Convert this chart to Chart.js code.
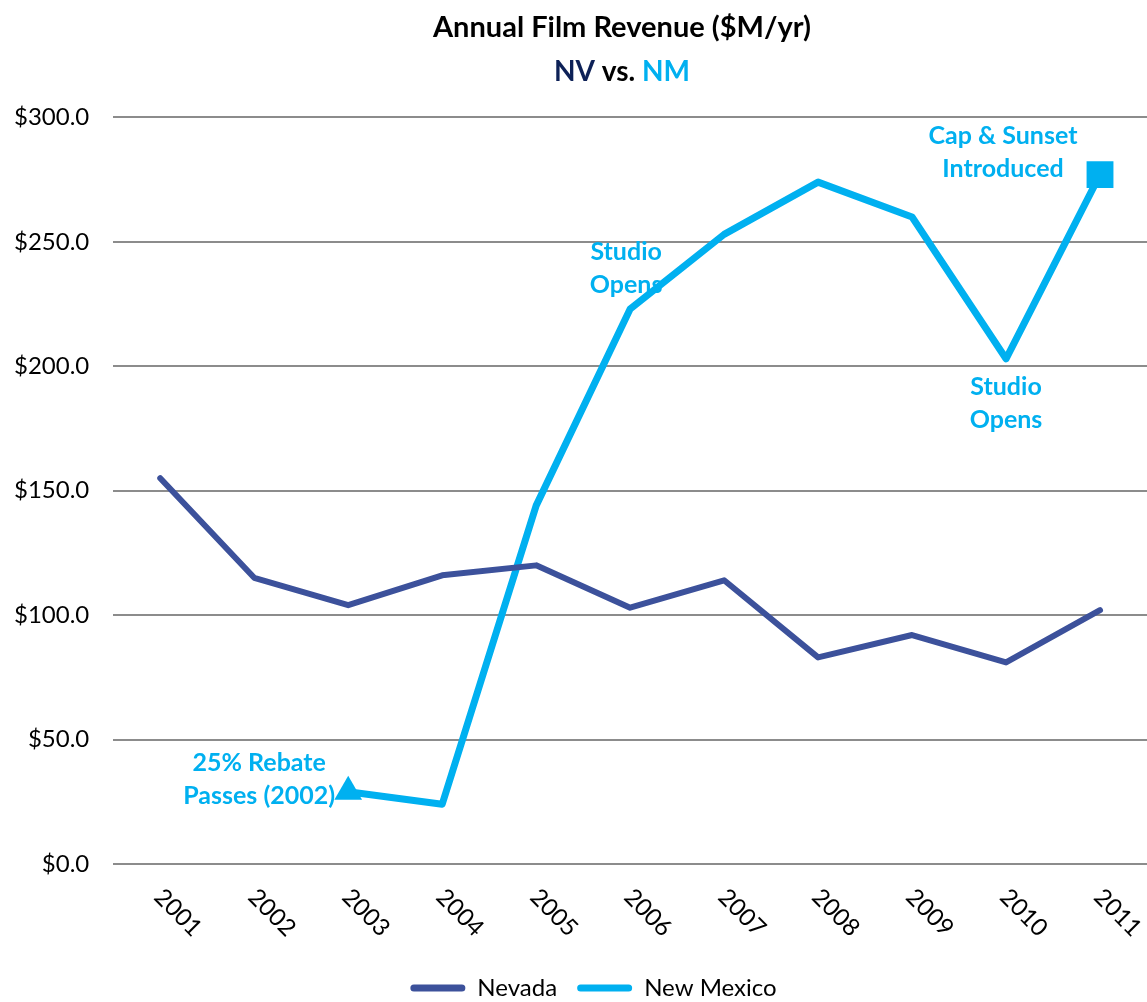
<!DOCTYPE html>
<html>
<head>
<meta charset="utf-8">
<script src="https://cdn.jsdelivr.net/npm/chart.js@4"></script>
<style>
  html, body { margin: 0; padding: 0; background: #fff; }
  #wrap { width: 1147px; height: 1002px; }
</style>
</head>
<body>
<div id="wrap"><canvas id="film"></canvas></div>
<script>
const years = ["2001", "2002", "2003", "2004", "2005", "2006", "2007", "2008", "2009", "2010", "2011"];
const nevada = [155, 115, 104, 116, 120, 103, 114, 83, 92, 81, 102];
const newMexico = [null, null, 29, 24, 144, 223, 253, 274, 260, 203, 277];
const yTicks = [0, 50, 100, 150, 200, 250, 300];

// notes: [year index, lines, dx, dy of first line]
const notes = [
  [2, ["25% Rebate", "Passes (2002)"], -89, -29],
  [5, ["Studio", "Opens"], -4, -57],
  [9, ["Studio", "Opens"], 0, 28],
  [10, ["Cap & Sunset", "Introduced"], -97, -39],
];

const NV = "#3C519B";
const NM = "#00B0F0";
const FONT = "Lato, 'Open Sans', sans-serif";

const titleText = "Annual Film Revenue ($M/yr)";
const subtitleText = "NV vs. NM";
const TITLE_X = 622;

const notesPlugin = {
  id: "notes",
  afterLayout(chart) {
    // the original legend sits a little right of centre
    chart.legend.left += 25;
    chart.legend.right += 25;
  },
  beforeDatasetsDraw(chart) {
    const ctx = chart.ctx;
    const meta = chart.getDatasetMeta(1);
    ctx.save();
    ctx.font = "bold 25px " + FONT;
    ctx.fillStyle = NM;
    ctx.textAlign = "center";
    ctx.textBaseline = "middle";
    notes.forEach(([i, lines, dx, dy]) => {
      const pt = meta.data[i];
      lines.forEach((t, k) => ctx.fillText(t, pt.x + dx, pt.y + dy + k * 33));
    });
    ctx.restore();
  },
  afterDraw(chart) {
    const ctx = chart.ctx;
    // rotated year labels (clockwise)
    const xs = chart.scales.x;
    ctx.save();
    ctx.font = "24px " + FONT;
    ctx.fillStyle = "#000";
    ctx.textAlign = "left";
    ctx.textBaseline = "middle";
    years.forEach((y, i) => {
      const x = xs.getPixelForValue(i);
      ctx.save();
      ctx.translate(x - 2, chart.chartArea.bottom + 29);
      ctx.rotate(Math.PI / 4);
      ctx.fillText(y, 0, 0);
      ctx.restore();
    });
    // title and two-colour subtitle, centred like the original
    const tBox = chart.boxes.find(b => b.options && b.options.text === titleText);
    if (tBox) {
      ctx.font = "bold 29px " + FONT;
      ctx.textAlign = "center";
      ctx.fillStyle = "#000";
      ctx.fillText(titleText, TITLE_X, tBox.top + 2 + 17.4);
    }
    const box = chart.boxes.find(b => b.options && b.options.text === subtitleText);
    if (box) {
      ctx.font = "bold 28px " + FONT;
      ctx.textAlign = "left";
      const parts = [["NV", "#0D2157"], [" vs. ", "#000"], ["NM", NM]];
      const total = parts.reduce((s, p) => s + ctx.measureText(p[0]).width, 0);
      let x = TITLE_X - total / 2;
      const y = box.top + 10 + 16.8;
      parts.forEach(([t, c]) => {
        ctx.fillStyle = c;
        ctx.fillText(t, x, y);
        x += ctx.measureText(t).width;
      });
    }
    ctx.restore();
  }
};

new Chart(document.getElementById("film"), {
  type: "line",
  data: {
    labels: years,
    datasets: [
      {
        label: "Nevada",
        data: nevada,
        borderColor: NV,
        backgroundColor: NV,
        borderWidth: 6,
        borderCapStyle: "round",
        borderJoinStyle: "round",
        pointRadius: 0,
        tension: 0,
      },
      {
        label: "New Mexico",
        data: newMexico,
        borderColor: NM,
        backgroundColor: NM,
        borderWidth: 7,
        borderCapStyle: "round",
        borderJoinStyle: "round",
        pointStyle: newMexico.map((v, i) => i === 2 ? "triangle" : "rect"),
        pointRadius: newMexico.map((v, i) => i === 2 ? 16 : (i === 10 ? 19 : 0)),
        pointBorderWidth: 0,
        tension: 0,
      },
    ],
  },
  options: {
    responsive: true,
    maintainAspectRatio: false,
    animation: false,
    layout: { autoPadding: false, padding: { left: -10, right: 0, top: 8, bottom: -8 } },
    plugins: {
      title: {
        display: true,
        text: titleText,
        color: "rgba(0,0,0,0)",
        font: { family: FONT, size: 29, weight: "bold" },
        padding: { top: 2, bottom: 0 },
      },
      subtitle: {
        display: true,
        text: subtitleText,
        color: "rgba(0,0,0,0)",
        font: { family: FONT, size: 28, weight: "bold" },
        padding: { top: 10, bottom: 29 },
      },
      legend: {
        position: "bottom",
        labels: {
          color: "#000",
          font: { family: FONT, size: 24 },
          boxWidth: 55,
          boxHeight: 7,
          padding: 20,
          generateLabels(chart) {
            return Chart.defaults.plugins.legend.labels.generateLabels(chart).map(l => {
              l.fillStyle = l.strokeStyle;
              l.lineWidth = 0;
              l.borderRadius = 3.5;
              return l;
            });
          },
        },
      },
      tooltip: { enabled: false },
    },
    scales: {
      x: {
        offset: true,
        grid: { display: false, drawTicks: false },
        border: { display: false },
        ticks: { display: false },
        afterFit(scale) { scale.height = 92; },
      },
      y: {
        min: 0,
        max: 300,
        afterBuildTicks(scale) { scale.ticks = yTicks.map(v => ({ value: v })); },
        grid: { color: "#8C8C8C", lineWidth: 2, drawTicks: false },
        border: { display: false },
        ticks: {
          color: "#000",
          font: { family: FONT, size: 24 },
          padding: 24,
          callback: v => "$" + Number(v).toFixed(1),
        },
      },
    },
  },
  plugins: [notesPlugin],
});
</script>
</body>
</html>
